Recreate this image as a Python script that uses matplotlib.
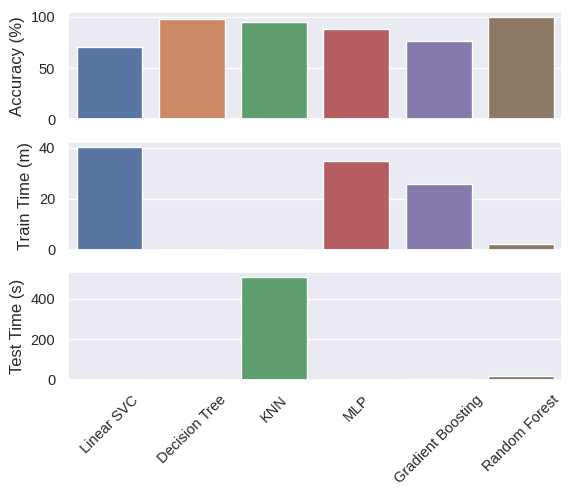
import matplotlib
matplotlib.use("Agg")
import matplotlib.pyplot as plt
import seaborn as sns

models = ["Linear SVC", "Decision Tree", "KNN", "MLP", "Gradient Boosting", "Random Forest"]
accuracy = [70.5, 98.0, 95.0, 88.0, 76.5, 99.7]
train_time = [40.3, 0.05, 0.01, 34.8, 25.9, 2.4]
test_time = [0.5, 0.5, 505.0, 1.5, 4.0, 19.0]

sns.set_theme(style="darkgrid")
plt.rcParams["font.family"] = ["Liberation Sans", "DejaVu Sans"]

fig, axes = plt.subplots(3, 1, figsize=(5.7, 4.94), dpi=100, sharex=True)

sns.barplot(x=models, y=accuracy, hue=models, palette="deep", legend=False, ax=axes[0])
axes[0].set_ylabel("Accuracy (%)", fontsize=12)

sns.barplot(x=models, y=train_time, hue=models, palette="deep", legend=False, ax=axes[1])
axes[1].set_ylabel("Train Time (m)", fontsize=12)

sns.barplot(x=models, y=test_time, hue=models, palette="deep", legend=False, ax=axes[2])
axes[2].set_ylabel("Test Time (s)", fontsize=12)

for ax in axes:
    ax.set_xlabel("")
    ax.tick_params(axis="y", labelsize=10.5)
axes[2].tick_params(axis="x", labelrotation=45, labelsize=10.5)

fig.subplots_adjust(left=0.12, right=0.986, top=0.976, bottom=0.231, hspace=0.21)
fig.savefig("out.png")
